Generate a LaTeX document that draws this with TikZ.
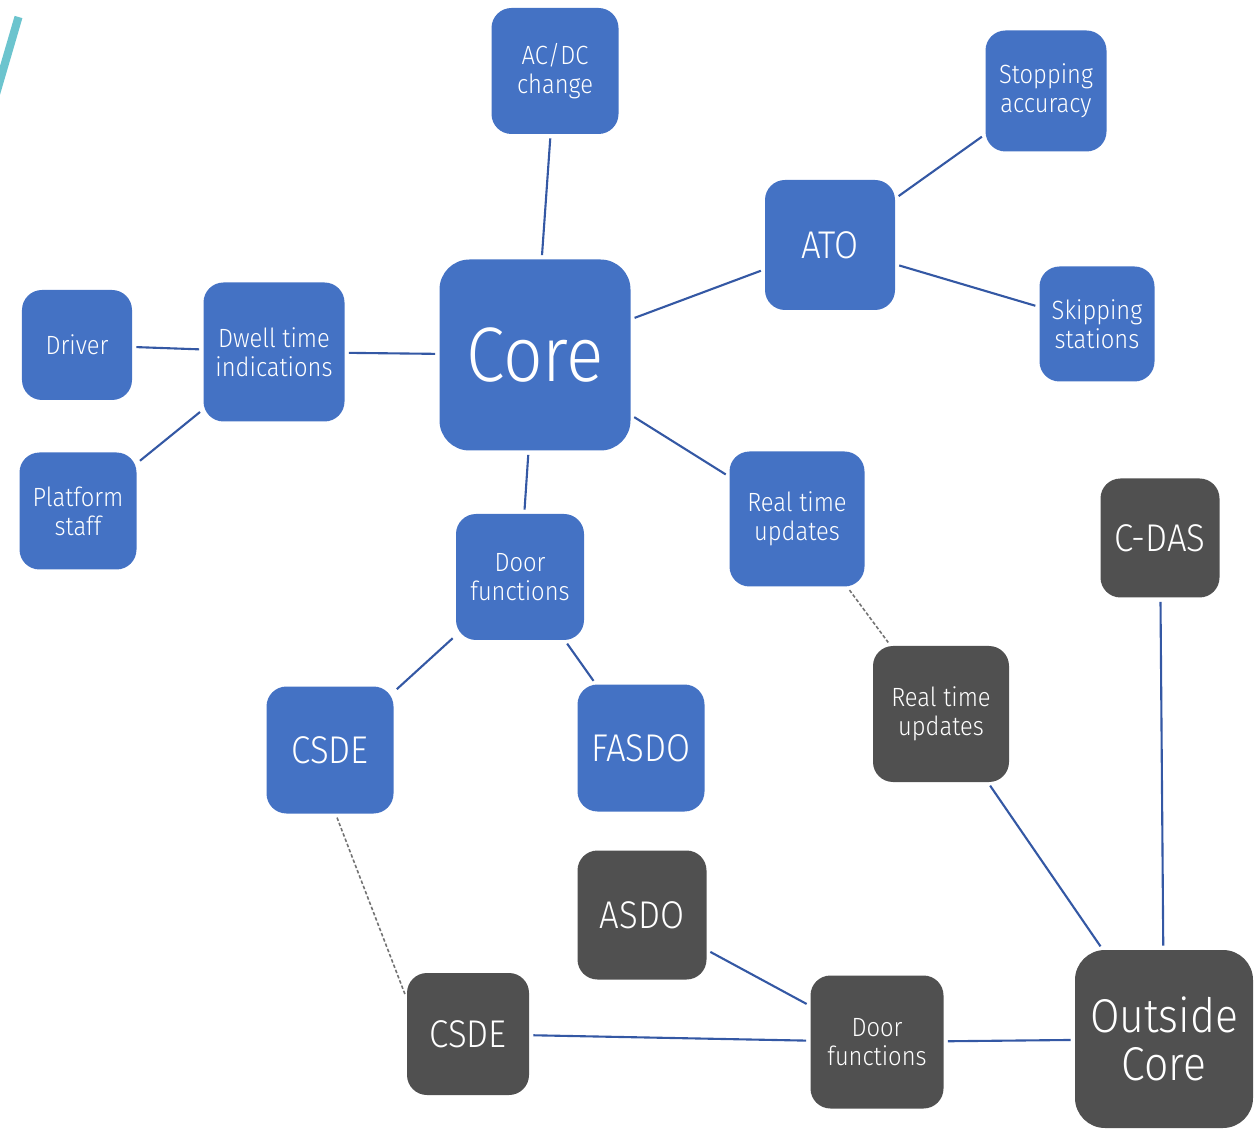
\documentclass[tikz,border=0pt]{standalone}
\usepackage{fontspec}
\setmainfont{Fira Sans Light}[FakeStretch=0.9]
\definecolor{boxblue}{RGB}{68,114,196}
\definecolor{boxgrey}{RGB}{80,80,80}
\definecolor{linkblue}{RGB}{52,88,164}
\definecolor{tickcyan}{RGB}{108,196,206}
\tikzset{
  box/.style={rounded corners=0.4cm, text=white, align=center, inner sep=0pt,
    font=\fontsize{15}{16.5}\selectfont},
  bluebox/.style={box, fill=boxblue},
  greybox/.style={box, fill=boxgrey},
  side/.style={minimum width=#1, minimum height=#1},
  big/.style={font=\fontsize{22}{24}\selectfont},
  link/.style={linkblue, line width=1.2pt, shorten <=0.08cm, shorten >=0.08cm},
  weak/.style={gray!90!black, line width=0.9pt, dash pattern=on 2pt off 1.2pt,
    shorten <=0.08cm, shorten >=0.08cm}
}
\begin{document}
\begin{tikzpicture}
  \useasboundingbox (0,0) rectangle (25.16,-22.58);

  % Cyan tick cut off at the top left
  \draw[tickcyan, line width=4.6pt] (-0.1,-1.95) -- (0.37,-0.34);

  % Core and its branches
  \node[bluebox, side=3.82cm, rounded corners=0.6cm, font=\fontsize{44}{48}\selectfont] (core) at (10.70,-7.10) {Core};
  \node[bluebox, minimum width=2.54cm, minimum height=2.52cm] (acdc) at (11.10,-1.42) {AC/DC\\change};
  \node[bluebox, side=2.60cm, big] (ato) at (16.60,-4.90) {ATO};
  \node[bluebox, side=2.42cm] (stop) at (20.92,-1.82) {Stopping\\accuracy};
  \node[bluebox, side=2.30cm] (skip) at (21.94,-6.48) {Skipping\\stations};
  \node[bluebox, minimum width=2.82cm, minimum height=2.78cm] (dwell) at (5.48,-7.04) {Dwell time\\indications};
  \node[bluebox, side=2.20cm] (driver) at (1.54,-6.90) {Driver};
  \node[bluebox, side=2.34cm] (staff) at (1.56,-10.22) {Platform\\staff};
  \node[bluebox, minimum width=2.56cm, minimum height=2.52cm] (door) at (10.40,-11.54) {Door\\functions};
  \node[bluebox, side=2.70cm] (rtu) at (15.94,-10.38) {Real time\\updates};
  \node[bluebox, side=2.54cm, big] (csde) at (6.60,-15.00) {CSDE};
  \node[bluebox, side=2.54cm, big] (fasdo) at (12.82,-14.96) {FASDO};

  % Outside core
  \node[greybox, side=3.56cm, rounded corners=0.6cm, font=\fontsize{27}{27}\selectfont] (outside) at (23.28,-20.78) {Outside\\Core};
  \node[greybox, side=2.38cm, big] (cdas) at (23.20,-10.76) {C-DAS};
  \node[greybox, side=2.72cm] (rtuout) at (18.82,-14.28) {Real time\\updates};
  \node[greybox, side=2.58cm, big] (asdo) at (12.84,-18.30) {ASDO};
  \node[greybox, side=2.44cm, big] (csdeout) at (9.36,-20.68) {CSDE};
  \node[greybox, side=2.66cm] (doorout) at (17.54,-20.84) {Door\\functions};

  % Links
  \draw[link] (acdc) -- (core);
  \draw[link] (core) -- (ato);
  \draw[link] (ato) -- (stop);
  \draw[link] (ato) -- (skip);
  \draw[link] (core) -- (dwell);
  \draw[link] (dwell) -- (driver);
  \draw[link] (dwell) -- (staff);
  \draw[link] (core) -- (door);
  \draw[link] (core) -- (rtu);
  \draw[link] (door) -- (csde);
  \draw[link] (door) -- (fasdo);
  \draw[link] (rtuout) -- (outside);
  \draw[link] (cdas) -- (outside);
  \draw[link] (asdo) -- (doorout);
  \draw[link] (csdeout) -- (doorout);
  \draw[link] (doorout) -- (outside);

  % Dashed links between the two sides
  \draw[weak] (rtu) -- (rtuout);
  \draw[weak] (csde.-85) -- (csdeout.150);
\end{tikzpicture}
\end{document}
